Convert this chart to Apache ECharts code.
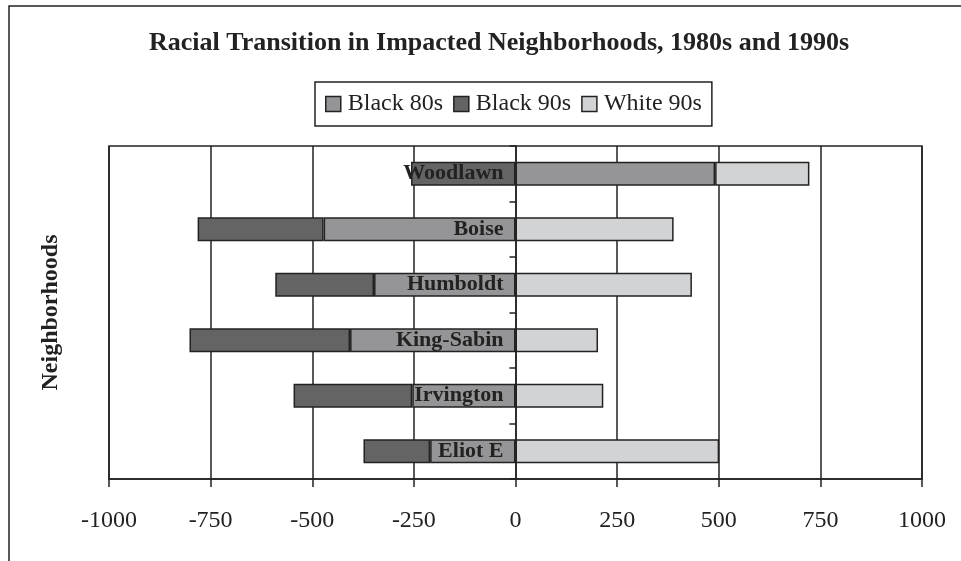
<!DOCTYPE html>
<html>
<head>
<meta charset="utf-8">
<script src="https://cdn.jsdelivr.net/npm/echarts@6/dist/echarts.min.js"></script>
<style>
  html, body { margin: 0; padding: 0; background: #fff; }
  #chart { width: 961px; height: 561px; }
</style>
</head>
<body>
<div id="chart"></div>
<script>
// neighborhoods, bottom to top (category axis starts at the bottom)
var neighborhoods = ['Eliot E', 'Irvington', 'King-Sabin', 'Humboldt', 'Boise', 'Woodlawn'];
var black80s = [-210, -254, -407, -348, -472, 491];
var black90s = [-164, -292, -395, -243, -310, -257];
var white90s = [501, 216, 203, 434, 389, 232];
var xTicks = [-1000, -750, -500, -250, 0, 250, 500, 750, 1000];

var serif = '"Liberation Serif", "Times New Roman", serif';
var ink = '#222';
var barW = '43%';

var chart = echarts.init(document.getElementById('chart'));

function barSeries(name, data, color) {
  return {
    name: name,
    type: 'bar',
    stack: 'total',
    data: data,
    barWidth: barW,
    barGap: '-100%',
    itemStyle: {
      color: color,
      borderColor: ink,
      borderWidth: 1.5
    }
  };
}

// zero-length bars that only carry the neighborhood names at the 0 line
var nameBars = neighborhoods.map(function () { return 0; });

var option = {
  animation: false,
  title: {
    text: 'Racial Transition in Impacted Neighborhoods, 1980s and 1990s',
    left: 149,
    top: 30,
    padding: 0,
    textStyle: {
      fontFamily: serif,
      fontSize: 26,
      fontWeight: 'bold',
      color: ink
    }
  },
  legend: {
    left: 315,
    top: 82,
    padding: [10, 10, 10, 10],
    borderColor: ink,
    borderWidth: 1.5,
    itemGap: 10,
    itemWidth: 15,
    itemHeight: 15,
    icon: 'rect',
    itemStyle: {
      borderColor: ink,
      borderWidth: 1.5
    },
    textStyle: {
      fontFamily: serif,
      fontSize: 24,
      color: ink,
      padding: [0, 0, 0, 2]
    },
    data: ['Black 80s', 'Black 90s', 'White 90s']
  },
  grid: {
    left: 109,
    right: 39,
    top: 146,
    bottom: 82,
    show: true,
    borderColor: ink,
    borderWidth: 1.5,
    containLabel: false,
    outerBoundsMode: 'none'
  },
  xAxis: {
    type: 'value',
    min: xTicks[0],
    max: xTicks[xTicks.length - 1],
    interval: 250,
    axisLine: { show: true, onZero: false, lineStyle: { color: ink, width: 1.5 } },
    axisTick: { show: true, length: 8, lineStyle: { color: ink, width: 1.5 } },
    splitLine: { show: true, lineStyle: { color: ink, width: 1.5 } },
    axisLabel: {
      margin: 30,
      fontFamily: serif,
      fontSize: 24,
      color: ink,
      formatter: function (v) { return String(v); }
    }
  },
  yAxis: {
    type: 'category',
    data: neighborhoods,
    axisLine: { show: true, onZero: true, lineStyle: { color: ink, width: 1.5 } },
    axisTick: { show: true, length: 6, lineStyle: { color: ink, width: 1.5 } },
    splitLine: { show: false },
    axisLabel: { show: false }
  },
  graphic: [
    {
      type: 'rect',
      silent: true,
      shape: { x: 9, y: 6, width: 1000, height: 1000 },
      style: { fill: 'none', stroke: ink, lineWidth: 1.5 }
    },
    {
      type: 'text',
      silent: true,
      x: 51,
      y: 312.5,
      rotation: Math.PI / 2,
      style: {
        text: 'Neighborhoods',
        fill: ink,
        font: 'bold 24px ' + serif,
        textAlign: 'center',
        textVerticalAlign: 'middle'
      }
    }
  ],
  series: [
    barSeries('Black 80s', black80s, '#959597'),
    barSeries('Black 90s', black90s, '#646465'),
    barSeries('White 90s', white90s, '#d2d3d5'),
    {
      name: 'names',
      type: 'bar',
      data: nameBars,
      barWidth: barW,
      barGap: '-100%',
      z: 5,
      silent: true,
      itemStyle: { color: 'rgba(0,0,0,0)', borderWidth: 0 },
      label: {
        show: true,
        position: 'left',
        distance: 12,
        formatter: '{b}',
        fontFamily: serif,
        fontSize: 22,
        fontWeight: 'bold',
        color: ink
      }
    }
  ]
};

chart.setOption(option);
</script>
</body>
</html>
